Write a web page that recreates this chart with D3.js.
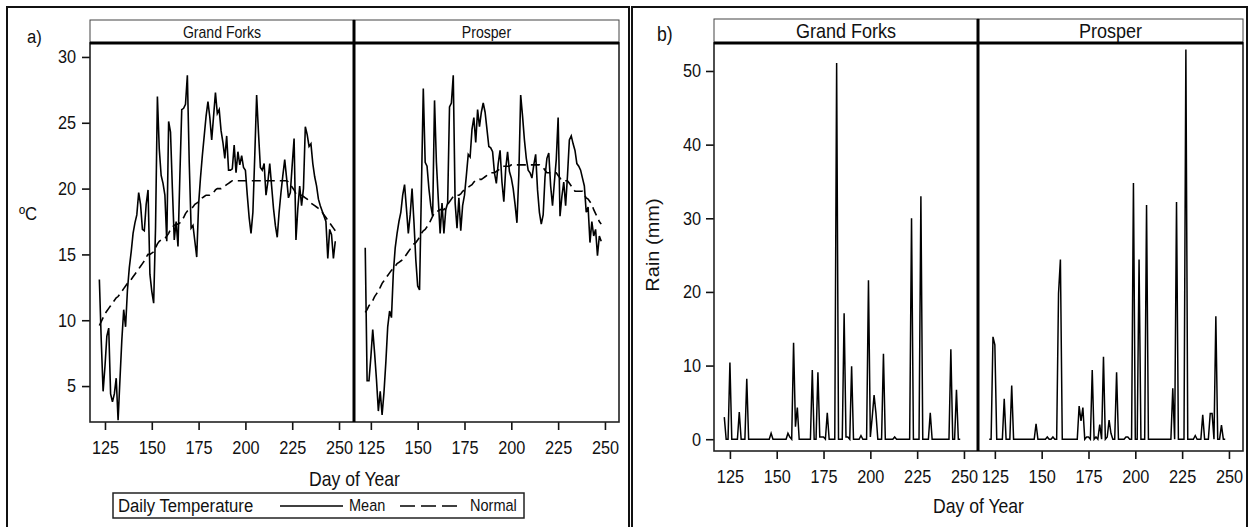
<!DOCTYPE html>
<head>
  <meta charset="utf-8">
  <script src="https://d3js.org/d3.v7.min.js"></script>
  <style>
    body { margin: 0; background: #fff; }
    svg text { font-family: "Liberation Sans", Arial, sans-serif; fill: #111; }
  </style>
</head>
<body>
<script>
  // sites (facet panels) and axis ticks
  var sites = ['Grand Forks', 'Prosper'];
  var firstDay = 122;
  var dayTicks = [125, 150, 175, 200, 225, 250];
  var tempTicks = [5, 10, 15, 20, 25, 30];
  var rainTicks = [0, 10, 20, 30, 40, 50];

  // daily mean temperature, deg C, days 122..248 (10 per row)
  var gfMeanTemp = [
    13.1, 8.5, 4.6, 6.5, 8.8, 9.4, 4.4, 3.8, 4.4, 5.6,
    2.4, 5.5, 8.5, 10.8, 9.5, 12.3, 14.0, 15.2, 16.6, 17.4,
    18.0, 19.7, 18.8, 16.9, 16.8, 18.8, 19.9, 13.5, 12.2, 11.3,
    17.0, 27.0, 23.0, 21.0, 20.4, 19.5, 16.0, 25.1, 24.3, 20.0,
    16.1, 17.5, 15.6, 21.0, 26.0, 26.1, 26.4, 28.6, 22.0, 17.0,
    17.2, 16.0, 14.8, 18.8, 20.8, 22.5, 24.0, 25.5, 26.6, 25.4,
    23.7, 25.5, 27.3, 25.7, 26.0, 24.4, 23.5, 22.3, 24.0, 21.4,
    21.4, 21.5, 23.3, 21.2, 22.8, 21.8, 22.5, 21.6, 21.4, 19.5,
    17.8, 16.6, 18.2, 22.5, 27.1, 24.2, 21.6, 21.4, 21.9, 19.5,
    20.5, 21.9, 20.2, 18.5, 17.2, 16.3, 18.2, 19.7, 21.0, 22.2,
    20.8, 19.3, 19.7, 21.8, 23.8, 16.1, 18.5, 20.2, 18.7, 20.0,
    24.7, 24.1, 23.2, 23.4, 21.9, 20.9, 20.2, 19.2, 18.7, 18.3,
    17.9, 17.5, 14.7, 16.9, 16.5, 14.7, 16.0
  ];
  var prMeanTemp = [
    15.5, 5.4, 5.4, 7.2, 9.3, 7.5, 5.5, 3.1, 4.6, 2.8,
    4.5, 6.8, 9.5, 10.7, 10.2, 13.6, 15.5, 16.6, 17.5, 18.2,
    19.5, 20.3, 18.5, 16.6, 18.0, 20.0, 17.5, 14.6, 12.6, 12.3,
    20.0, 27.6, 22.0, 21.7, 20.0, 18.7, 17.9, 26.7, 22.0, 19.2,
    16.6, 18.9, 16.6, 18.4, 18.9, 26.2, 26.5, 28.6, 18.9, 17.0,
    19.3, 16.8, 18.7, 19.5, 21.0, 22.6, 22.4, 24.5, 25.4, 23.5,
    26.0, 24.7, 25.8, 26.5, 25.8, 24.5, 23.2, 23.1, 22.8, 21.2,
    20.4, 21.9, 22.9, 20.5, 19.0, 21.5, 22.8, 21.3, 20.8, 20.0,
    18.8, 17.4, 21.0, 27.1, 25.5, 23.7, 22.3, 21.4, 21.2, 20.8,
    21.8, 22.6, 19.9, 18.2, 17.3, 18.0, 20.9, 22.3, 22.7, 20.2,
    18.7, 20.5, 22.2, 25.4, 17.9, 19.4, 20.5, 18.7, 21.0, 23.7,
    24.0, 23.4, 22.9, 21.9, 21.7, 21.4, 20.8, 20.2, 18.2, 18.6,
    15.9, 17.5, 16.4, 16.9, 14.9, 16.4, 16.0
  ];

  // long-term normal temperature, deg C, days 122..248
  var gfNormalTemp = [
    9.6, 9.9, 10.2, 10.5, 10.7, 10.9, 11.1, 11.3, 11.5, 11.7,
    11.8, 12.0, 12.2, 12.4, 12.6, 12.8, 12.9, 13.1, 13.3, 13.5,
    13.7, 13.9, 14.1, 14.3, 14.5, 14.8, 15.0, 15.0, 15.1, 15.2,
    15.5, 15.8, 16.0, 16.1, 16.1, 16.2, 16.4, 16.6, 16.9, 17.1,
    17.2, 17.3, 17.3, 17.4, 17.6, 17.8, 18.1, 18.3, 18.4, 18.5,
    18.6, 18.8, 18.9, 19.0, 19.1, 19.3, 19.4, 19.5, 19.5, 19.5,
    19.6, 19.7, 19.9, 20.0, 20.0, 20.0, 20.1, 20.2, 20.3, 20.4,
    20.5, 20.6, 20.6, 20.6, 20.6, 20.6, 20.6, 20.6, 20.6, 20.6,
    20.6, 20.6, 20.6, 20.6, 20.6, 20.6, 20.6, 20.6, 20.6, 20.6,
    20.6, 20.6, 20.6, 20.6, 20.6, 20.6, 20.6, 20.6, 20.6, 20.6,
    20.6, 20.5, 20.3, 20.1, 19.9, 19.6, 19.5, 19.5, 19.5, 19.4,
    19.3, 19.2, 19.0, 18.9, 18.8, 18.7, 18.6, 18.5, 18.4, 18.2,
    18.0, 17.8, 17.6, 17.4, 17.2, 17.0, 16.8
  ];
  var prNormalTemp = [
    10.6, 10.8, 11.1, 11.3, 11.5, 11.8, 12.0, 12.2, 12.5, 12.8,
    13.0, 13.2, 13.4, 13.6, 13.8, 13.9, 14.1, 14.3, 14.4, 14.5,
    14.6, 14.8, 15.0, 15.2, 15.4, 15.6, 15.8, 15.9, 16.1, 16.3,
    16.6, 16.8, 16.9, 17.1, 17.3, 17.6, 17.9, 18.2, 18.3, 18.3,
    18.4, 18.4, 18.4, 18.6, 18.8, 19.0, 19.2, 19.4, 19.5, 19.5,
    19.5, 19.6, 19.8, 19.9, 20.0, 20.1, 20.2, 20.3, 20.5, 20.6,
    20.6, 20.7, 20.7, 20.8, 20.9, 21.0, 21.1, 21.2, 21.2, 21.2,
    21.3, 21.4, 21.5, 21.6, 21.7, 21.7, 21.7, 21.7, 21.8, 21.8,
    21.8, 21.8, 21.8, 21.8, 21.8, 21.8, 21.8, 21.8, 21.8, 21.8,
    21.8, 21.8, 21.8, 21.8, 21.7, 21.6, 21.4, 21.2, 21.2, 21.2,
    21.2, 21.2, 21.2, 21.0, 20.8, 20.6, 20.6, 20.6, 20.6, 20.4,
    20.2, 20.0, 19.8, 19.8, 19.8, 19.8, 19.8, 19.5, 19.3, 19.2,
    19.0, 18.8, 18.4, 18.1, 17.8, 17.5, 17.3
  ];

  // daily rain, mm, days 122..248
  var gfRain = [
    3.0, 0, 0, 10.4, 0, 0, 0, 0, 3.7, 0,
    0, 0, 8.2, 0, 0, 0, 0, 0, 0, 0,
    0, 0, 0, 0, 0, 0.8, 0, 0, 0, 0,
    0, 0, 0, 0, 0.8, 0.3, 0, 13.1, 1.7, 4.3,
    0, 0, 0, 0, 0, 0, 0, 9.4, 0, 0,
    9.1, 0.3, 0.3, 0.3, 0, 3.6, 0, 0, 0, 0,
    51.1, 0, 0, 0, 17.1, 0.3, 0.3, 0, 9.9, 0,
    0, 0, 0, 0.5, 0, 0, 0, 21.6, 0.3, 3.0,
    6.0, 3.5, 0, 0, 0, 11.6, 0, 0, 0, 0,
    0, 0.3, 0, 0, 0, 0, 0, 0, 0, 0,
    30.0, 0, 0, 0, 0, 33.0, 0, 0, 0, 0,
    3.6, 0, 0, 0, 0, 0, 0, 0, 0, 0,
    0, 12.2, 0, 0, 6.7, 0, 0
  ];
  var prRain = [
    0, 0, 13.9, 12.8, 0, 0, 0, 0, 5.5, 0,
    0, 0, 7.3, 0, 0, 0, 0, 0, 0, 0,
    0, 0, 0, 0, 0, 2.1, 0, 0, 0, 0,
    0, 0.3, 0, 0, 0.3, 0, 0, 19.8, 24.4, 0,
    0, 0, 0, 0, 0, 0, 0, 0, 4.5, 2.5,
    4.3, 0, 0.3, 0.3, 0, 9.4, 0, 0.3, 0, 2.0,
    0, 11.2, 0, 0.3, 2.6, 0.8, 0, 0, 9.1, 0,
    0, 0, 0, 0.3, 0.3, 0, 0, 34.8, 0, 0,
    24.4, 0, 0, 0, 31.8, 0, 0, 0, 0, 0,
    0, 0, 0, 0, 0, 0, 0, 0, 6.9, 0,
    32.2, 0, 0, 0, 0, 52.9, 0, 0, 0, 0,
    0.5, 0, 0, 0, 3.3, 0, 0, 0, 3.5, 3.5,
    0, 16.7, 0, 0, 1.9, 0, 0
  ];

  var font = '"Liberation Sans", Arial, sans-serif';
  // the scanned figure is a little narrower than tall, so text gets squeezed sideways
  var squeeze = 0.88;

  var svg = d3.select('body').append('svg')
    .attr('width', 1250)
    .attr('height', 527);

  function label(parent, x, y, str, size, anchor) {
    return parent.append('text')
      .attr('transform', 'translate(' + x + ',' + y + ') scale(' + squeeze + ',1)')
      .attr('text-anchor', anchor || 'start')
      .attr('font-size', size)
      .text(str);
  }

  // outer boxes of the two figures
  svg.append('rect').attr('x', 7).attr('y', 7).attr('width', 622).attr('height', 560)
    .attr('fill', 'none').attr('stroke', '#111').attr('stroke-width', 2);
  svg.append('rect').attr('x', 632).attr('y', 7).attr('width', 615).attr('height', 560)
    .attr('fill', 'none').attr('stroke', '#111').attr('stroke-width', 2);

  function toPoints(values) {
    return values.map(function(v, i) { return [firstDay + i, v]; });
  }

  // draws one two-panel facet figure
  function facetFigure(o) {
    var g = svg.append('g');
    var y = d3.scaleLinear().domain(o.yDomain).range([o.bottom, o.top]);
    var left = o.panels[0][0], right = o.panels[1][1];

    o.panels.forEach(function(p, i) {
      var x = d3.scaleLinear().domain(o.xDomains[i]).range(p);

      // strip header
      g.append('rect').attr('x', p[0]).attr('y', o.headTop)
        .attr('width', p[1] - p[0]).attr('height', o.top - o.headTop)
        .attr('fill', '#fff').attr('stroke', '#444').attr('stroke-width', 1);
      label(g, (p[0] + p[1]) / 2, o.top - 5, sites[i], o.headSize, 'middle');

      var line = d3.line()
        .x(function(d) { return x(d[0]); })
        .y(function(d) { return y(d[1]); });

      o.series[i].forEach(function(s) {
        g.append('path').datum(toPoints(s.values))
          .attr('d', line)
          .attr('fill', 'none')
          .attr('stroke', '#000')
          .attr('stroke-width', s.width)
          .attr('stroke-dasharray', s.dash || null);
      });

      var ax = g.append('g')
        .attr('transform', 'translate(0,' + o.bottom + ')')
        .call(d3.axisBottom(x).tickValues(dayTicks).tickSize(8).tickPadding(11));
      ax.select('.domain').remove();
      ax.attr('font-size', o.tickSize).attr('font-family', font).attr('color', '#111');
      ax.selectAll('line').attr('stroke-width', 1.6);
      ax.selectAll('text').attr('transform', 'scale(' + squeeze + ',1)');
    });

    var ay = g.append('g')
      .attr('transform', 'translate(' + left + ',0)')
      .call(d3.axisLeft(y).tickValues(o.yTicks).tickSize(8).tickPadding(o.yPad));
    ay.select('.domain').remove();
    ay.attr('font-size', o.tickSize).attr('font-family', font).attr('color', '#111');
    ay.selectAll('line').attr('stroke-width', 1.6);
    ay.selectAll('text')
      .attr('x', -(8 + o.yPad) / squeeze)
      .attr('transform', 'scale(' + squeeze + ',1)');

    // plot frame, panel divider, thick strip underline
    g.append('rect').attr('x', left).attr('y', o.top)
      .attr('width', right - left).attr('height', o.bottom - o.top)
      .attr('fill', 'none').attr('stroke', '#222').attr('stroke-width', 1.6);
    g.append('line').attr('x1', o.panels[0][1]).attr('x2', o.panels[0][1])
      .attr('y1', o.headTop).attr('y2', o.bottom)
      .attr('stroke', '#000').attr('stroke-width', 3);
    g.append('line').attr('x1', left).attr('x2', right)
      .attr('y1', o.top).attr('y2', o.top)
      .attr('stroke', '#000').attr('stroke-width', 3);

    label(g, (left + right) / 2, o.xLabelY, 'Day of Year', 20, 'middle');
    return g;
  }

  // a) temperature
  facetFigure({
    panels: [[90, 354], [354, 619]],
    xDomains: [[117, 258], [116, 257.5]],
    yDomain: [2.27, 31.06],
    yTicks: tempTicks,
    yPad: 6,
    headTop: 20, top: 43, bottom: 422,
    headSize: 16, tickSize: 18.5,
    xLabelY: 486,
    series: [
      [{ values: gfNormalTemp, width: 1.6, dash: '9,5' }, { values: gfMeanTemp, width: 1.6 }],
      [{ values: prNormalTemp, width: 1.6, dash: '9,5' }, { values: prMeanTemp, width: 1.6 }]
    ]
  });

  // b) rain
  facetFigure({
    panels: [[714, 978], [978, 1243]],
    xDomains: [[116.5, 257.5], [116, 257.5]],
    yDomain: [-1.6, 53.8],
    yTicks: rainTicks,
    yPad: 5,
    headTop: 19, top: 43, bottom: 451,
    headSize: 20.5, tickSize: 18.5,
    xLabelY: 513,
    series: [
      [{ values: gfRain, width: 1.5 }],
      [{ values: prRain, width: 1.5 }]
    ]
  });

  label(svg, 27, 43, 'a)', 19);
  label(svg, 657, 41, 'b)', 20);
  label(svg, 19, 220, 'ºC', 19);
  svg.append('text')
    .attr('transform', 'translate(659,245) rotate(-90) scale(1,' + squeeze + ')')
    .attr('text-anchor', 'middle').attr('font-size', 20)
    .text('Rain (mm)');

  // legend for a)
  var leg = svg.append('g');
  leg.append('rect').attr('x', 113).attr('y', 493).attr('width', 411).attr('height', 25)
    .attr('fill', '#fff').attr('stroke', '#222').attr('stroke-width', 1.5);
  label(leg, 118, 512, 'Daily Temperature', 19);
  leg.append('line').attr('x1', 280).attr('x2', 343).attr('y1', 506).attr('y2', 506)
    .attr('stroke', '#000').attr('stroke-width', 1.5);
  label(leg, 349, 511, 'Mean', 16.5);
  leg.append('line').attr('x1', 400).attr('x2', 460).attr('y1', 506).attr('y2', 506)
    .attr('stroke', '#000').attr('stroke-width', 1.5).attr('stroke-dasharray', '15,6');
  label(leg, 470, 511, 'Normal', 16.5);
</script>
</body>
